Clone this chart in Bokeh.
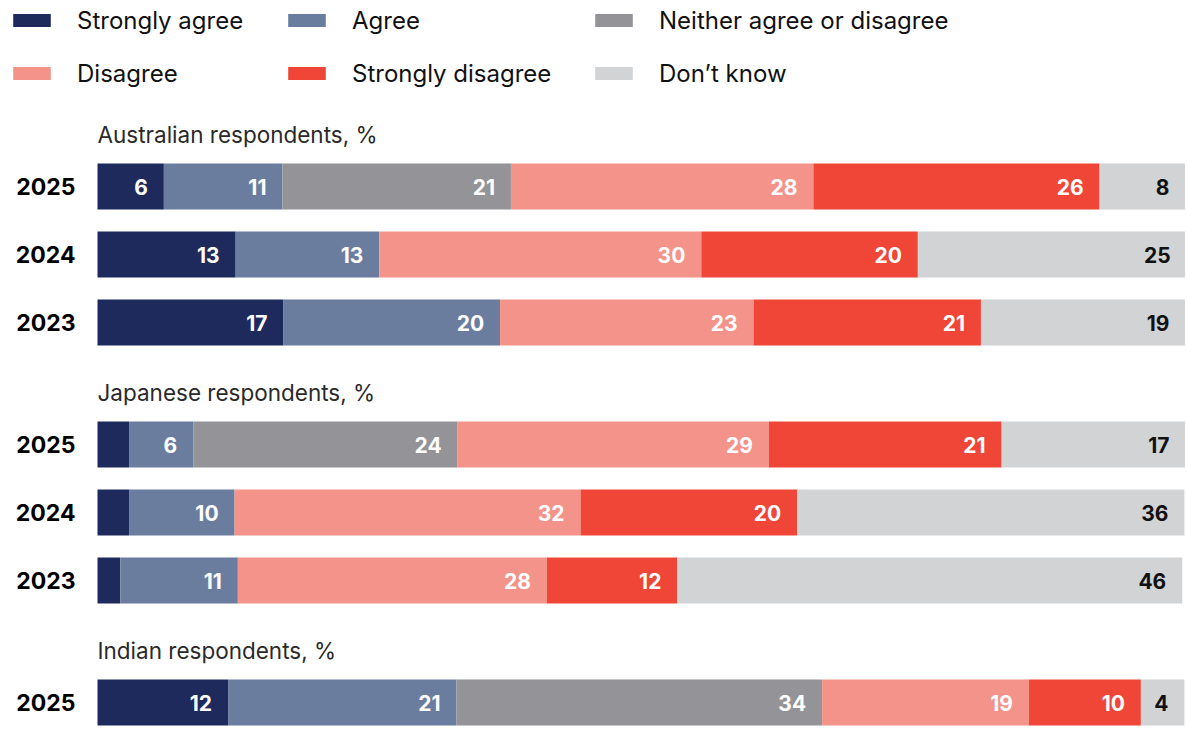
from bokeh.plotting import figure
from bokeh.models import Range1d, ColumnDataSource, Legend, LegendItem
from bokeh.core.properties import value
from bokeh.embed import file_html
from bokeh.resources import INLINE

# ---- data ----
groups = ["Australian respondents, %", "Japanese respondents, %", "Indian respondents, %"]
group_years = [["2025", "2024", "2023"], ["2025", "2024", "2023"], ["2025"]]
series = ["Strongly agree", "Agree", "Neither agree or disagree",
          "Disagree", "Strongly disagree", "Don’t know"]
# rows: AU 2025, AU 2024, AU 2023, JP 2025, JP 2024, JP 2023, IN 2025
strongly_agree    = [6.1, 12.7, 17.1, 2.9, 2.9, 2.1, 12.0]
agree             = [10.9, 13.2, 19.9, 5.9, 9.7, 10.8, 21.0]
neither           = [21.0, 0.0, 0.0, 24.3, 0.0, 0.0, 33.6]
disagree          = [27.8, 29.6, 23.3, 28.6, 31.8, 28.4, 19.0]
strongly_disagree = [26.3, 19.9, 20.9, 21.4, 19.9, 12.0, 10.3]
dont_know         = [7.9, 24.7, 18.8, 16.9, 35.6, 46.4, 4.0]

colors = ["#1f2a5c", "#6a7d9f", "#949498", "#f49389", "#ef4638", "#d2d3d5"]
label_colors = ["white", "white", "white", "white", "white", "#111111"]

values = [strongly_agree, agree, neither, disagree, strongly_disagree, dont_know]

# ---- layout (pixel-like y coordinates, top = 0) ----
W, H = 1185, 728
bar_left_px = 97
x_start = -bar_left_px * 100.0 / (W - bar_left_px)

row_y, header_y, year_labels = [], [], []
y = 134
for g, yrs in zip(groups, group_years):
    header_y.append(y)
    y += 52
    for yr in yrs:
        row_y.append(y)
        year_labels.append(yr)
        y += 68
    y += 2

p = figure(width=W, height=H, output_backend="svg", toolbar_location=None,
           x_range=Range1d(x_start, 100), y_range=Range1d(H, 0),
           min_border=0, min_border_left=0, min_border_right=0,
           min_border_top=0, min_border_bottom=0)
p.axis.visible = False
p.grid.visible = False
p.outline_line_color = None
p.background_fill_color = "white"
p.border_fill_color = "white"

legend_items = []
lefts = [0.0] * len(row_y)
lab_x, lab_y, lab_t, lab_c = [], [], [], []
for name, vals, col, lc in zip(series, values, colors, label_colors):
    rights = [l + v for l, v in zip(lefts, vals)]
    src = ColumnDataSource(dict(y=row_y, left=lefts, right=rights))
    r = p.hbar(y="y", left="left", right="right", height=46, source=src,
               fill_color=col, line_color=None)
    legend_items.append(LegendItem(label=name, renderers=[r]))
    for v, rr, yy in zip(vals, rights, row_y):
        if v >= 3.5:
            lab_x.append(rr)
            lab_y.append(yy)
            lab_t.append(f"{v:.0f}")
            lab_c.append(lc)
    lefts = rights

p.text(x="x", y="y", text="t", text_color="c",
       source=ColumnDataSource(dict(x=lab_x, y=lab_y, t=lab_t, c=lab_c)),
       text_font=value("Inter"), text_font_style="bold", text_font_size="21px",
       text_align="right", text_baseline="middle", x_offset=-16)

# year labels
p.text(x=[0] * len(row_y), y=row_y, text=year_labels, text_color="#000000",
       text_font=value("Inter"), text_font_style="bold", text_font_size="23px",
       text_align="right", text_baseline="middle", x_offset=-22)

# group headers
p.text(x=[0] * len(header_y), y=header_y, text=groups, text_color="#2a2a2a",
       text_font=value("Inter"), text_font_size="22.5px",
       text_align="left", text_baseline="middle")

# legend: three columns, two rows each
col_x = [8, 283, 590]
legend_bottom_px = 88
for ci, cx in enumerate(col_x):
    items = [legend_items[ci], legend_items[ci + 3]]
    lg = Legend(items=items, location=(cx, H - legend_bottom_px), orientation="vertical",
                margin=0, padding=0, spacing=23,
                glyph_width=47, glyph_height=16, label_standoff=22,
                label_height=30, label_text_font="Inter", label_text_font_size="24px",
                label_text_color="#111111", border_line_color=None,
                background_fill_alpha=0)
    p.add_layout(lg)

open("out.html", "w").write(file_html(p, INLINE))
